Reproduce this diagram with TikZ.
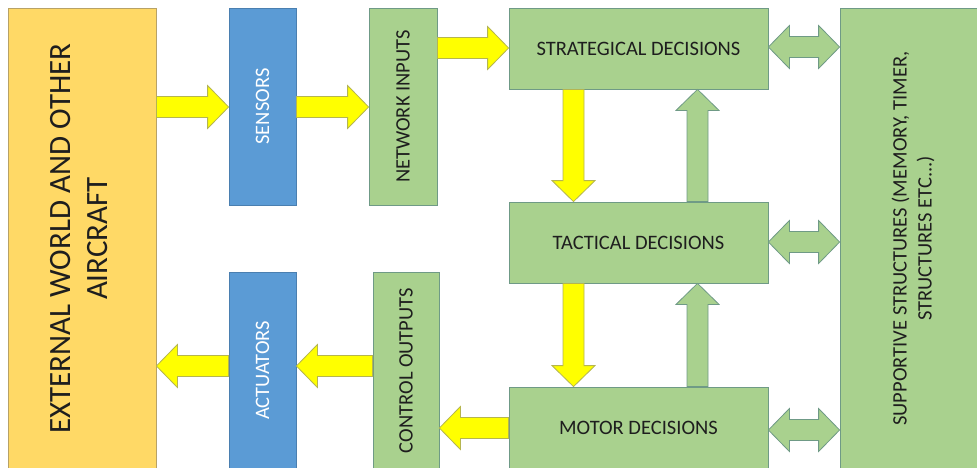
\documentclass[tikz,border=0pt]{standalone}
\usepackage{fontspec}
\setmainfont{Carlito}
\usetikzlibrary{calc}

\definecolor{extfill}{HTML}{FFD966}
\definecolor{extline}{HTML}{B8A266}
\definecolor{bluefill}{HTML}{5B9BD5}
\definecolor{blueline}{HTML}{4A7FB0}
\definecolor{greenfill}{HTML}{A9D18E}
\definecolor{greenline}{HTML}{6F9A86}
\definecolor{yellowfill}{HTML}{FFFF00}
\definecolor{yellowline}{HTML}{B5B550}
\definecolor{inkdark}{HTML}{1E1E1E}

% block-arrow geometry
\newcommand{\arrSW}{10.5pt}% half shaft width
\newcommand{\arrHW}{21.5pt}% half head width
\newcommand{\arrHL}{21pt}%   head length

% single-headed block arrow from #2 to #3 (tip at #3)
\newcommand{\blockarrow}[3][yarrow]{%
  \path[#1] let \p1=#2, \p2=#3,
      \n1={atan2(\y2-\y1,\x2-\x1)}, \n2={veclen(\x2-\x1,\y2-\y1)} in
    [shift={(\p1)}, rotate=\n1]
    (0pt,\arrSW) -- ({\n2-\arrHL},\arrSW) -- ({\n2-\arrHL},\arrHW) -- ({\n2},0pt)
    -- ({\n2-\arrHL},-\arrHW) -- ({\n2-\arrHL},-\arrSW) -- (0pt,-\arrSW) -- cycle;}

% double-headed block arrow between #2 and #3
\newcommand{\dblarrow}[3][garrow]{%
  \path[#1] let \p1=#2, \p2=#3,
      \n1={atan2(\y2-\y1,\x2-\x1)}, \n2={veclen(\x2-\x1,\y2-\y1)} in
    [shift={(\p1)}, rotate=\n1]
    (0pt,0pt) -- (\arrHL,\arrHW) -- (\arrHL,\arrSW) -- ({\n2-\arrHL},\arrSW)
    -- ({\n2-\arrHL},\arrHW) -- ({\n2},0pt) -- ({\n2-\arrHL},-\arrHW)
    -- ({\n2-\arrHL},-\arrSW) -- (\arrHL,-\arrSW) -- (\arrHL,-\arrHW) -- cycle;}

\newcommand{\labelfont}{\fontsize{20.5}{25}\selectfont}
\newcommand{\worldfont}{\fontsize{31}{37}\selectfont}

\begin{document}
\begin{tikzpicture}[x=1pt, y=-1pt,
  panel/.style={line width=0.8pt, inner sep=0pt, text=inkdark, font=\labelfont},
  worldbox/.style={panel, draw=extline, fill=extfill, font=\worldfont},
  bluebox/.style={panel, draw=blueline, fill=bluefill, text=white},
  greenbox/.style={panel, draw=greenline, fill=greenfill},
  yarrow/.style={draw=yellowline, fill=yellowfill, line width=0.8pt, line join=miter},
  garrow/.style={draw=greenline, fill=greenfill, line width=0.8pt, line join=miter}]

\useasboundingbox (0,0) rectangle (977,467);
\clip (0,0) rectangle (977,467);
\fill[white] (0,0) rectangle (977,467);

% outer world and the support column (both run past the lower edge)
\node[worldbox, minimum width=148pt, minimum height=461pt] (ext) at (82,238.5)
  {\rotatebox{90}{\begin{tabular}{@{}c@{}}EXTERNAL WORLD AND OTHER\\AIRCRAFT\end{tabular}}};
\node[greenbox, minimum width=148pt, minimum height=461pt] (sup) at (914,238.5)
  {\rotatebox{90}{\begin{tabular}{@{}c@{}}SUPPORTIVE STRUCTURES (MEMORY, TIMER,\\STRUCTURES ETC...)\end{tabular}}};

% input chain
\node[bluebox, minimum width=67pt, minimum height=197pt] (sen) at (262.5,106.5)
  {\rotatebox{90}{SENSORS}};
\node[greenbox, minimum width=68pt, minimum height=197pt] (net) at (403,106.5)
  {\rotatebox{90}{NETWORK INPUTS}};

% output chain
\node[bluebox, minimum width=67pt, minimum height=197pt] (act) at (262.5,370.5)
  {\rotatebox{90}{ACTUATORS}};
\node[greenbox, minimum width=66pt, minimum height=197pt] (ctl) at (406,370.5)
  {\rotatebox{90}{CONTROL OUTPUTS}};

% decision layers
\node[greenbox, minimum width=259pt, minimum height=81pt] (str) at (638.5,48.5)
  {STRATEGICAL DECISIONS};
\node[greenbox, minimum width=259pt, minimum height=81pt] (tac) at (638.5,242.5)
  {TACTICAL DECISIONS};
\node[greenbox, minimum width=259pt, minimum height=82pt] (mot) at (638.5,428)
  {MOTOR DECISIONS};

% forward flow
\blockarrow{(ext.east |- 0,107)}{(sen.west |- 0,107)}
\blockarrow{(sen.east |- 0,107)}{(net.west |- 0,107)}
\blockarrow{(net.east |- 0,48)}{(str.west |- 0,48)}
\blockarrow{(str.south -| 573.5,0)}{(tac.north -| 573.5,0)}
\blockarrow{(tac.south -| 573.5,0)}{(mot.north -| 573.5,0)}
\blockarrow{(mot.west |- 0,428)}{(ctl.east |- 0,428)}
\blockarrow{(ctl.west |- 0,366)}{(act.east |- 0,366)}
\blockarrow{(act.west |- 0,366)}{(ext.east |- 0,366)}

% feedback between layers
\blockarrow[garrow]{(tac.north -| 697.5,0)}{(str.south -| 697.5,0)}
\blockarrow[garrow]{(mot.north -| 697.5,0)}{(tac.south -| 697.5,0)}

% links to the support structures
\dblarrow{(str.east |- 0,47)}{(sup.west |- 0,47)}
\dblarrow{(tac.east |- 0,242)}{(sup.west |- 0,242)}
\dblarrow{(mot.east |- 0,430)}{(sup.west |- 0,430)}
\end{tikzpicture}
\end{document}
